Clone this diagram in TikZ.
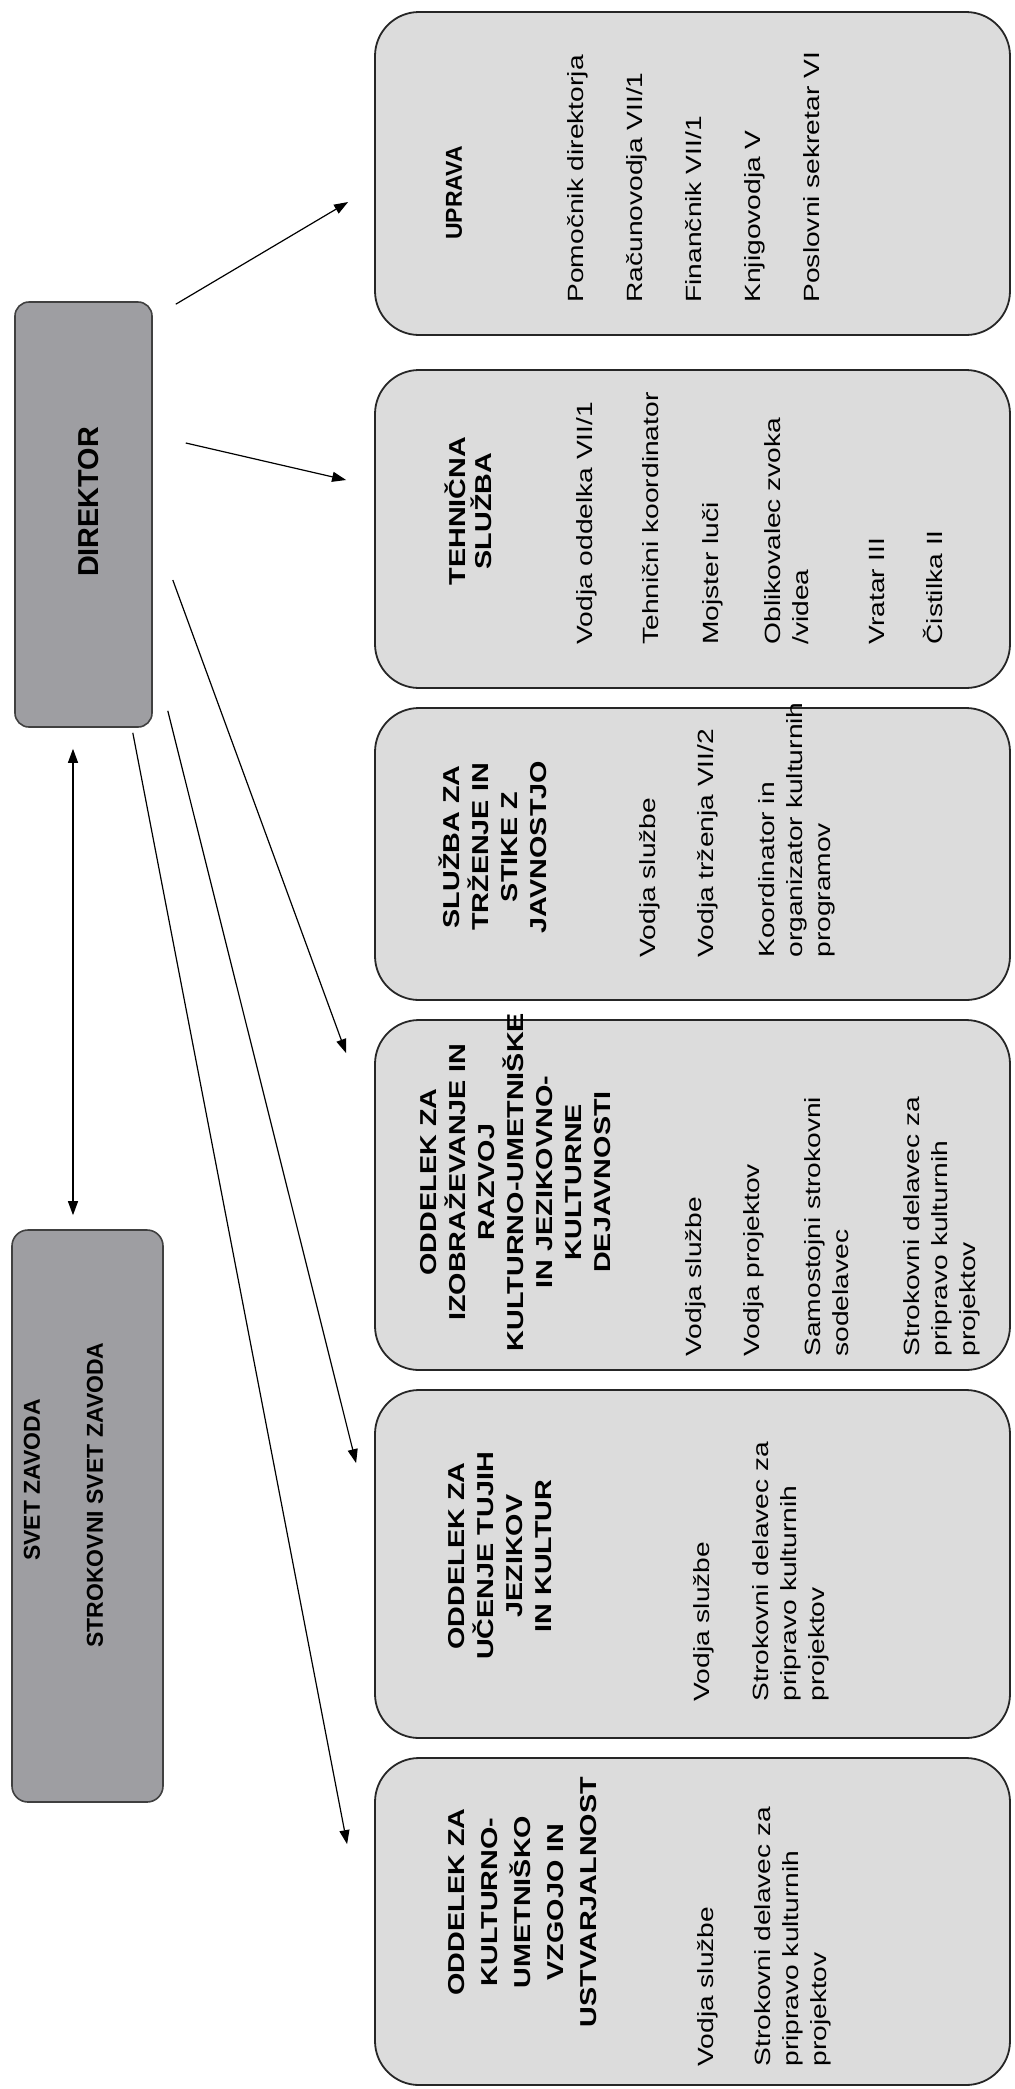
\documentclass[tikz,border=0pt]{standalone}
\usepackage{fontspec}
\setmainfont{Liberation Sans}
\usetikzlibrary{arrows.meta}
\definecolor{boxgray}{HTML}{DCDCDC}
\definecolor{bossgray}{HTML}{9E9EA2}

\begin{document}
\begin{tikzpicture}[x=0.5pt,y=0.5pt]
      \tikzstyle{box} =[rectangle,draw=black!85,line width=0.9pt,fill=boxgray,
                        rounded corners=22pt,minimum width=317.5pt,inner sep=0pt];
      \tikzstyle{boss}=[rectangle,draw=black!75,line width=0.8pt,fill=bossgray,
                        inner sep=0pt];
      \tikzstyle{ttl} =[rotate=90,xscale=1.25,inner sep=0pt,align=center,
                        font=\bfseries\fontsize{11.5}{14.5}\selectfont];
      \tikzstyle{itm} =[rotate=90,xscale=1.28,inner sep=0pt,align=left,
                        anchor=north west,font=\fontsize{11}{14}\selectfont];
      \tikzstyle{arr} =[-{Triangle[length=7pt,width=5pt]},line width=0.6pt];
      \useasboundingbox (0,0) rectangle (1015,-2089);
      % vodstvo
      \node[boss,minimum width=68.5pt,minimum height=212.5pt,rounded corners=7pt]
            (dir) at (83.5,-514.5) {};
      \node[rotate=90,font=\bfseries\fontsize{14.4}{17}\selectfont] (dir-t)
            at (89,-502) {DIREKTOR};
      \node[boss,minimum width=75.5pt,minimum height=286pt,rounded corners=8pt]
            (svet) at (87.5,-1516) {};
      \node[rotate=90,font=\bfseries\fontsize{11.5}{14}\selectfont] (svet-a)
            at (32,-1480) {SVET ZAVODA};
      \node[rotate=90,font=\bfseries\fontsize{11.5}{14}\selectfont] (svet-b)
            at (95,-1495) {STROKOVNI SVET ZAVODA};
      % enote
      \node[box,minimum height=161.5pt] (up)  at (692.5,-173.5) {};
      \node[box,minimum height=159pt]   (teh) at (692.5,-529) {};
      \node[box,minimum height=146pt]   (trz) at (692.5,-854) {};
      \node[box,minimum height=175pt]   (izo) at (692.5,-1195) {};
      \node[box,minimum height=174pt]   (tuj) at (692.5,-1564) {};
      \node[box,minimum height=163.5pt] (kul) at (692.5,-1921.5) {};
      % naslovi
      \node[ttl,xscale=0.8] (up-t)  at (454,-193)  {UPRAVA};
      \node[ttl,font=\bfseries\fontsize{11.5}{13}\selectfont] (teh-t) at (468,-511)
            {TEHNIČNA\\SLUŽBA};
      \node[ttl] (trz-t) at (493,-847)
            {SLUŽBA ZA\\TRŽENJE IN\\STIKE Z\\JAVNOSTJO};
      \node[ttl] (izo-t) at (516,-1182)
            {ODDELEK ZA\\IZOBRAŽEVANJE IN\\RAZVOJ\\KULTURNO-UMETNIŠKE\\IN JEZIKOVNO-\\KULTURNE\\DEJAVNOSTI};
      \node[ttl] (tuj-t) at (500,-1556)
            {ODDELEK ZA\\UČENJE TUJIH\\JEZIKOV\\IN KULTUR};
      \node[ttl,font=\bfseries\fontsize{11.5}{16.5}\selectfont] (kul-t) at (523,-1902)
            {ODDELEK ZA\\KULTURNO-\\UMETNIŠKO\\VZGOJO IN\\USTVARJALNOST};
      % delovna mesta
      \node[itm] (up-i) at (567,-303)
            {Pomočnik direktorja\\[15.5pt]Računovodja VII/1\\[15.5pt]Finančnik VII/1\\[15.5pt]Knjigovodja V\\[15.5pt]Poslovni sekretar VI};
      \node[itm] (teh-i) at (576,-645)
            {Vodja oddelka VII/1\\[19pt]Tehnični koordinator\\[16pt]Mojster luči\\[17pt]Oblikovalec zvoka\\/videa\\[24pt]Vratar III\\[15pt]Čistilka II};
      \node[itm] (trz-i) at (639,-958)
            {Vodja službe\\[15pt]Vodja trženja VII/2\\[16.5pt]Koordinator in\\organizator kulturnih\\programov};
      \node[itm] (izo-i) at (685,-1357)
            {Vodja službe\\[15pt]Vodja projektov\\[16.5pt]Samostojni strokovni\\sodelavec\\[21.5pt]Strokovni delavec za\\pripravo kulturnih\\projektov};
      \node[itm] (tuj-i) at (693,-1702)
            {Vodja službe\\[15.5pt]Strokovni delavec za\\pripravo kulturnih\\projektov};
      \node[itm] (kul-i) at (697,-2067)
            {Vodja službe\\[14.5pt]Strokovni delavec za\\pripravo kulturnih\\projektov};
      % povezave
      \draw[{Triangle[length=7pt,width=5pt]}-{Triangle[length=7pt,width=5pt]},line width=0.6pt]
            ([shift={(-10.5,-21)}]dir.south) -- ([shift={(-14.5,14)}]svet.north);
      \draw[arr] ([shift={(23,-3)}]dir.north east) -- ([shift={(-26,-28.5)}]up.west);
      \draw[arr] ([shift={(33,71.5)}]dir.east) -- ([shift={(-28,49)}]teh.west);
      \draw[arr] ([shift={(20,-65.5)}]dir.east) -- ([shift={(-28,-34)}]izo.north west);
      \draw[arr] ([shift={(15,17)}]dir.south east) -- ([shift={(-18,-74)}]tuj.north west);
      \draw[arr] ([shift={(-20,-5)}]dir.south east) -- ([shift={(-27,-87)}]kul.north west);
    \end{tikzpicture}
\end{document}
